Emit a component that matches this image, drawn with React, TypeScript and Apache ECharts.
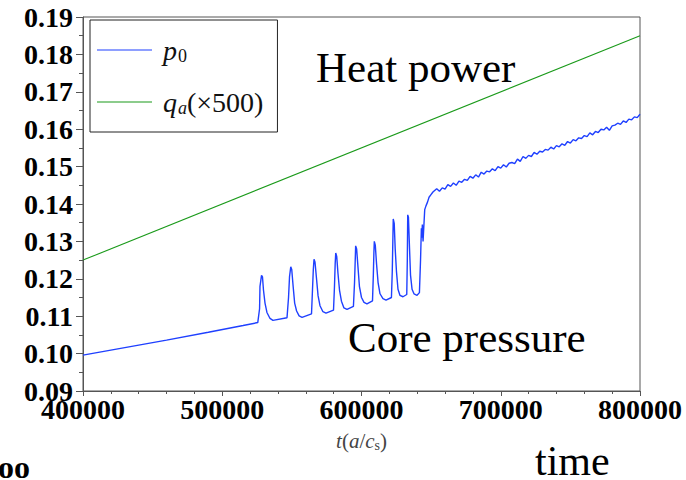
import React, { useEffect, useRef } from "react";
import * as echarts from "echarts";

// Axis ranges and tick steps
const xRange = [400000, 800000];
const xStep = 100000;
const yRange = [0.09, 0.19];
const yStep = 0.01;

// Heating power q_a (scaled by 500)
const heatT = [400000, 800000];
const heatQ = [0.125, 0.185];

// Core pressure p_0: slow ramp, relaxation bursts, then the jump to the improved regime
const coreT = [
  400000, 430000, 460000, 490000, 515000, 525500,
  526800, 527100, 528200, 528900, 529600, 530700, 532100, 534300, 536400, 546500,
  547600, 548300, 549200, 549900, 550900, 552000, 553400, 555200, 557300, 564100,
  564800, 565400, 565900, 566600, 567700, 568800, 570200, 572300, 574500, 579900,
  580600, 581100, 581500, 582200, 583100, 584200, 585600, 587400, 589600, 594200,
  595000, 595500, 595800, 596500, 597500, 598500, 600000, 601800, 603900, 607900,
  608500, 608900, 609200, 609900, 610800, 611900, 613300, 615400, 617600, 621500,
  622100, 622500, 622800, 623500, 624200, 625100, 626200, 627600, 629800, 632500,
  632900, 633200, 633700, 634500, 635200, 636300, 637700, 639900, 641600,
  642400, 643000, 643300, 643700, 644200, 644700, 645400, 646300, 647400, 648500,
  649900, 651300,
  654000, 656000, 658000, 660000, 662000, 664000, 666000, 668000, 670000, 672000,
  674000, 676000, 678000, 680000, 682000, 684000, 686000, 688000, 690000, 692000,
  694000, 696000, 698000, 700000, 702000, 704000, 706000, 708000, 710000, 712000,
  714000, 716000, 718000, 720000, 722000, 724000, 726000, 728000, 730000, 732000,
  734000, 736000, 738000, 740000, 742000, 744000, 746000, 748000, 750000, 752000,
  754000, 756000, 758000, 760000, 762000, 764000, 766000, 768000, 770000, 772000,
  774000, 776000, 778000, 780000, 782000, 784000, 786000, 788000, 790000, 792000,
  794000, 796000, 798000, 800000,
];
const coreP = [
  0.0996, 0.1016, 0.1036, 0.1057, 0.1075, 0.1083,
  0.1120, 0.1180, 0.1209, 0.1205, 0.1170, 0.1135, 0.1110, 0.1094, 0.1089, 0.1096,
  0.1150, 0.1205, 0.1232, 0.1225, 0.1180, 0.1135, 0.1114, 0.1101, 0.1097, 0.1106,
  0.1170, 0.1225, 0.1252, 0.1245, 0.1200, 0.1155, 0.1128, 0.1112, 0.1108, 0.1116,
  0.1180, 0.1240, 0.1269, 0.1260, 0.1215, 0.1170, 0.1140, 0.1122, 0.1118, 0.1126,
  0.1190, 0.1250, 0.1288, 0.1280, 0.1230, 0.1180, 0.1150, 0.1137, 0.1133, 0.1141,
  0.1210, 0.1270, 0.1300, 0.1290, 0.1240, 0.1190, 0.1160, 0.1147, 0.1143, 0.1150,
  0.1220, 0.1300, 0.1360, 0.1348, 0.1280, 0.1220, 0.1172, 0.1156, 0.1152, 0.1158,
  0.1250, 0.1371, 0.1365, 0.1280, 0.1210, 0.1172, 0.1160, 0.1156, 0.1163,
  0.1250, 0.1335, 0.1310, 0.1345, 0.1300, 0.1335, 0.1385, 0.1395, 0.1405, 0.1418,
  0.1425, 0.1432,
  0.1441, 0.1434, 0.1443, 0.1440, 0.1452, 0.1447, 0.1456, 0.1450, 0.1461, 0.1458,
  0.1466, 0.1463, 0.1474, 0.1469, 0.1478, 0.1472, 0.1485, 0.1480, 0.1488, 0.1486,
  0.1494, 0.1489, 0.1500, 0.1496, 0.1505, 0.1499, 0.1509, 0.1511, 0.1508, 0.1520,
  0.1514, 0.1527, 0.1522, 0.1530, 0.1527, 0.1538, 0.1533, 0.1541, 0.1539, 0.1546,
  0.1544, 0.1552, 0.1547, 0.1556, 0.1553, 0.1561, 0.1557, 0.1567, 0.1563, 0.1572,
  0.1569, 0.1577, 0.1575, 0.1583, 0.1580, 0.1590, 0.1585, 0.1594, 0.1591, 0.1600,
  0.1598, 0.1605, 0.1597, 0.1609, 0.1611, 0.1616, 0.1613, 0.1622, 0.1618, 0.1627,
  0.1625, 0.1633, 0.1631, 0.1640,
];

const SERIF = '"Liberation Serif", "Times New Roman", serif';
const AXIS_GREY = "#555";

export default function App() {
  const ref = useRef<HTMLDivElement>(null);

  useEffect(() => {
    if (!ref.current) return;
    const chart = echarts.init(ref.current, undefined, { renderer: "svg" });

    const coreData = coreT.map((t, i) => [t, coreP[i]]);
    const heatData = heatT.map((t, i) => [t, heatQ[i]]);

    const base = { fontFamily: SERIF, fontSize: 28, lineHeight: 24, color: "#111" };
    const italic = { ...base, fontStyle: "italic" };
    const lead = { ...italic, padding: [0, 0, 0, 6] };
    const subUp = { fontFamily: SERIF, fontSize: 18, lineHeight: 24, color: "#111", padding: [12, 0, 0, 1] };
    const subIt = { ...subUp, fontStyle: "italic" };

    chart.setOption({
      animation: false,
      backgroundColor: "#fff",
      grid: {
        left: 83,
        top: 17,
        right: 46,
        bottom: 89,
        show: true,
        borderColor: AXIS_GREY,
        borderWidth: 1,
        containLabel: false,
      },
      legend: {
        orient: "vertical",
        left: 90,
        top: 20,
        padding: [15, 14, 15, 7],
        itemGap: 22,
        itemWidth: 55,
        itemHeight: 1,
        icon: "rect",
        borderColor: "#222",
        borderWidth: 1,
        backgroundColor: "#fff",
        selectedMode: false,
        data: ["p0", "qa"],
        formatter: (name: string) =>
          name === "p0" ? "{l|p}{s|0}" : "{l|q}{si|a}{n|(×500)}",
        textStyle: {
          lineHeight: 24,
          rich: { l: lead, i: italic, n: base, s: subUp, si: subIt },
        },
      },
      xAxis: {
        type: "value",
        min: xRange[0],
        max: xRange[1],
        interval: xStep,
        name: "{i|t}{n|(}{i|a}{n|/}{i|c}{s|s}{n|)}",
        nameLocation: "middle",
        nameGap: 39,
        nameTextStyle: {
          rich: {
            i: { fontFamily: SERIF, fontStyle: "italic", fontSize: 21, color: "#444" },
            n: { fontFamily: SERIF, fontSize: 21, color: "#444" },
            s: { fontFamily: SERIF, fontSize: 14, color: "#444", padding: [8, 0, 0, 0] },
          },
        },
        axisLine: { show: true, lineStyle: { color: AXIS_GREY, width: 1 } },
        axisTick: { show: true, inside: false, length: 5, lineStyle: { color: AXIS_GREY } },
        minorTick: { show: true, splitNumber: 5, length: 3, lineStyle: { color: AXIS_GREY } },
        splitLine: { show: false },
        axisLabel: {
          margin: 4,
          color: "#000",
          fontFamily: SERIF,
          fontWeight: "bold",
          fontSize: 28,
          formatter: (v: number) => String(Math.round(v)),
        },
      },
      yAxis: {
        type: "value",
        min: yRange[0],
        max: yRange[1],
        interval: yStep,
        axisLine: { show: true, lineStyle: { color: AXIS_GREY, width: 1 } },
        axisTick: { show: true, inside: false, length: 7, lineStyle: { color: AXIS_GREY } },
        minorTick: { show: true, splitNumber: 2, length: 4, lineStyle: { color: AXIS_GREY } },
        splitLine: { show: false },
        axisLabel: {
          margin: 10,
          color: "#000",
          fontFamily: SERIF,
          fontWeight: "bold",
          fontSize: 28,
          formatter: (v: number) => v.toFixed(2),
        },
      },
      series: [
        {
          name: "p0",
          type: "line",
          data: coreData,
          showSymbol: false,
          symbol: "none",
          color: "#1f40ff",
          lineStyle: { width: 1.4, color: "#1f40ff" },
          z: 3,
        },
        {
          name: "qa",
          type: "line",
          data: heatData,
          showSymbol: false,
          symbol: "none",
          color: "#1a9a1a",
          lineStyle: { width: 1.1, color: "#1a9a1a" },
          z: 2,
        },
      ],
      graphic: [
        {
          type: "text",
          x: 316,
          y: 67,
          style: { text: "Heat power", fontFamily: SERIF, fontSize: 43, fill: "#000", verticalAlign: "middle" },
        },
        {
          type: "text",
          x: 348,
          y: 337,
          style: { text: "Core pressure", fontFamily: SERIF, fontSize: 43, fill: "#000", verticalAlign: "middle" },
        },
        {
          type: "text",
          x: 535,
          y: 461,
          style: { text: "time", fontFamily: SERIF, fontSize: 42, fill: "#000", verticalAlign: "middle" },
        },
        {
          type: "text",
          x: -2,
          y: 467,
          style: { text: "oo", fontFamily: SERIF, fontWeight: "bold", fontSize: 32, fill: "#000", verticalAlign: "middle" },
        },
      ],
    });

    return () => chart.dispose();
  }, []);

  return (
    <div
      ref={ref}
      style={{ position: "fixed", left: 0, top: 0, width: 686, height: 480, background: "#fff" }}
    />
  );
}
